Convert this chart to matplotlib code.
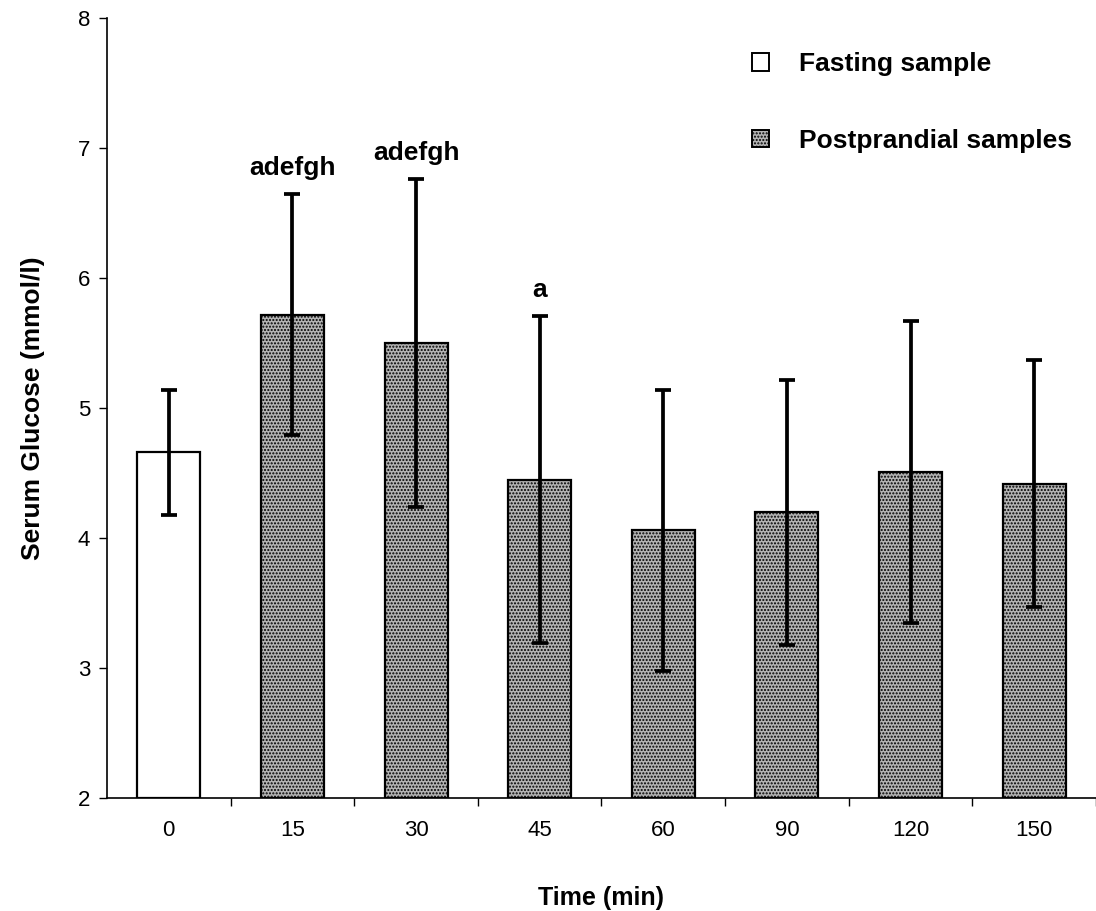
import matplotlib.pyplot as plt
import numpy as np
from matplotlib.patches import Patch

plt.rcParams['font.family'] = ['Liberation Sans', 'DejaVu Sans']
plt.rcParams['hatch.color'] = '#303030'
plt.rcParams['hatch.linewidth'] = 1.0

# data
times = ['0', '15', '30', '45', '60', '90', '120', '150']
glucose = [4.66, 5.72, 5.50, 4.45, 4.06, 4.20, 4.51, 4.42]
sd = [0.48, 0.93, 1.26, 1.26, 1.08, 1.02, 1.16, 0.95]
letters = ['', 'adefgh', 'adefgh', 'a', '', '', '', '']

fig = plt.figure(figsize=(10.96, 9.11), dpi=100)
ax = fig.add_axes([0.0976, 0.124, 0.9024, 0.856])

x = np.arange(len(times))
bars = ax.bar(x, np.array(glucose) - 2, bottom=2, width=0.51,
              color='#b4b4b4', edgecolor='black', linewidth=1.6, zorder=2)
for i, b in enumerate(bars):
    if i == 0:
        b.set_facecolor('white')
    else:
        b.set_hatch('.....')

ax.errorbar(x, glucose, yerr=sd, fmt='none', ecolor='black',
            elinewidth=2.7, capsize=6, capthick=2.7, zorder=3)

for i, t in enumerate(letters):
    if t:
        ax.annotate(t, (x[i], glucose[i] + sd[i]), xytext=(0, 10),
                    textcoords='offset points', ha='center', va='bottom',
                    fontsize=19, fontweight='bold')

ax.set_xlim(-0.5, 7.5)
ax.set_ylim(2, 8)
ax.set_yticks(range(2, 9))
ax.set_xticks(np.arange(0.5, 8, 1.0))
ax.set_xticklabels([])
ax.set_xticks(x, minor=True)
ax.set_xticklabels(times, minor=True)
ax.tick_params(axis='x', which='major', length=6, width=1, direction='out')
ax.tick_params(axis='x', which='minor', length=0, pad=16, labelsize=16)
ax.tick_params(axis='y', length=6, width=1, labelsize=16, pad=6)

for s in ['top', 'right']:
    ax.spines[s].set_visible(False)
ax.spines['left'].set_linewidth(1.2)
ax.spines['bottom'].set_linewidth(1.2)

ax.set_ylabel('Serum Glucose (mmol/l)', fontsize=19, fontweight='bold', labelpad=24)
ax.set_xlabel('Time (min)', fontsize=18, fontweight='bold', labelpad=32)

handles = [Patch(facecolor='white', edgecolor='black', linewidth=1.4),
           Patch(facecolor='#b4b4b4', edgecolor='black', linewidth=1.4, hatch='.....')]
leg = ax.legend(handles, ['Fasting sample', 'Postprandial samples'],
                loc='upper left', bbox_to_anchor=(0.628, 0.987), frameon=False,
                prop={'size': 19, 'weight': 'bold'}, handlelength=0.65,
                handleheight=0.65, handletextpad=1.14, labelspacing=2.0)

fig.savefig('out.png', dpi=100)
